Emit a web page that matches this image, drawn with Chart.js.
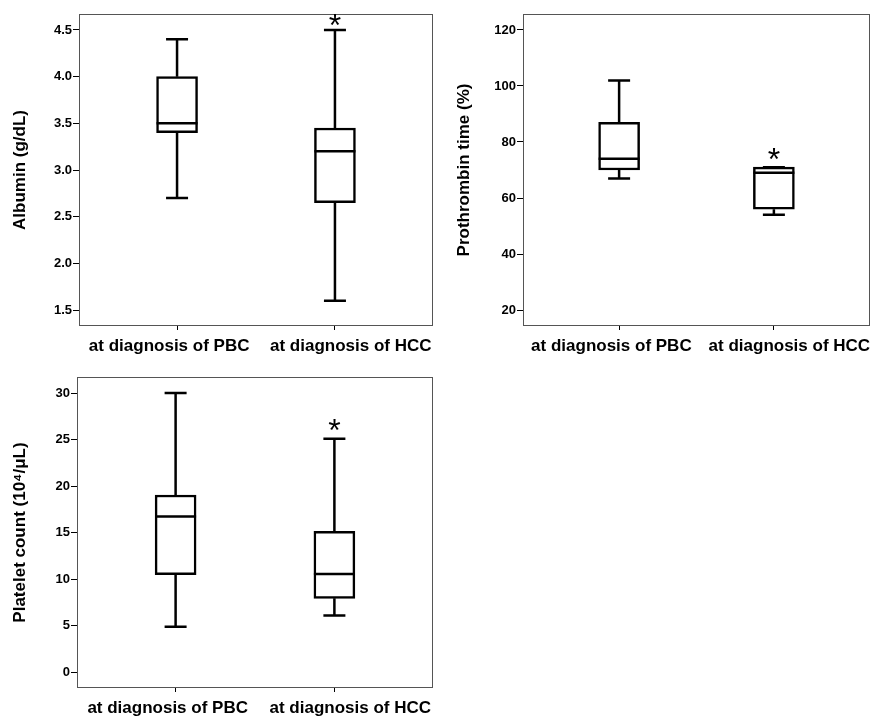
<!DOCTYPE html>
<html>
<head>
<meta charset="utf-8">
<script src="https://cdn.jsdelivr.net/npm/chart.js@4.4.0/dist/chart.umd.min.js"></script>
<style>
body { margin: 0; background: #fff; }
#wrap { position: relative; width: 872px; height: 716px; overflow: hidden; }
canvas { position: absolute; }
</style>
</head>
<body>
<div id="wrap">
<canvas id="albumin" width="440" height="360" style="left:0;top:0"></canvas>
<canvas id="prothrombin" width="432" height="360" style="left:440px;top:0"></canvas>
<canvas id="platelet" width="440" height="356" style="left:0;top:360px"></canvas>
</div>
<script>
const groups = ['at diagnosis of PBC', 'at diagnosis of HCC'];

// albumin (g/dL)
const albLow = [2.7, 1.6];
const albQ1 = [3.4, 2.65];
const albMedian = [3.5, 3.2];
const albQ3 = [4.0, 3.45];
const albHigh = [4.4, 4.5];
const albStar = [null, 4.61];
const albTicks = [1.5, 2.0, 2.5, 3.0, 3.5, 4.0, 4.5];

// prothrombin time (%)
const ptLow = [67, 54];
const ptQ1 = [70, 56];
const ptMedian = [74, 69];
const ptQ3 = [87, 71];
const ptHigh = [102, 71];
const ptStar = [null, 75.6];
const ptTicks = [20, 40, 60, 80, 100, 120];

// platelet count (10^4/uL)
const pltLow = [4.9, 6.1];
const pltQ1 = [10.5, 7.95];
const pltMedian = [16.75, 10.55];
const pltQ3 = [19.05, 15.15];
const pltHigh = [30, 25.1];
const pltStar = [null, 26.6];
const pltTicks = [0, 5, 10, 15, 20, 25, 30];

// layout
const xRange = [-0.621, 1.621];
const labelSpots = [-0.05, 1.1];

Chart.defaults.font.family = "'Liberation Sans', Arial, sans-serif";
Chart.defaults.font.weight = 'bold';
Chart.defaults.color = '#000';

function noPad(s) {
    s.paddingLeft = 0;
    s.paddingRight = 0;
}

function whiskers(p) {
    return {
        id: 'whiskers',
        afterDatasetsDraw(chart) {
            const { ctx, chartArea: a, scales: { y } } = chart;
            const bars = chart.getDatasetMeta(0).data;
            ctx.save();
            ctx.strokeStyle = '#555';
            ctx.lineWidth = 1;
            ctx.strokeRect(a.left + 0.5, a.top + 0.5, a.width - 1, a.height - 1);
            ctx.strokeStyle = '#000';
            ctx.lineWidth = 2.5;
            bars.forEach((bar, i) => {
                const cx = bar.x, half = bar.width / 2, cap = 11;
                const yHigh = y.getPixelForValue(p.high[i]);
                const yQ3 = y.getPixelForValue(p.q3[i]);
                const yMed = y.getPixelForValue(p.median[i]);
                const yQ1 = y.getPixelForValue(p.q1[i]);
                const yLow = y.getPixelForValue(p.low[i]);
                ctx.beginPath();
                ctx.moveTo(cx, yHigh); ctx.lineTo(cx, yQ3);
                ctx.moveTo(cx, yQ1); ctx.lineTo(cx, yLow);
                ctx.moveTo(cx - cap, yHigh); ctx.lineTo(cx + cap, yHigh);
                ctx.moveTo(cx - cap, yLow); ctx.lineTo(cx + cap, yLow);
                ctx.moveTo(cx - half, yMed); ctx.lineTo(cx + half, yMed);
                ctx.stroke();
                if (p.star[i] != null) {
                    ctx.font = "32px 'Liberation Sans', Arial, sans-serif";
                    ctx.fillStyle = '#000';
                    ctx.textAlign = 'center';
                    ctx.textBaseline = 'alphabetic';
                    const m = ctx.measureText('*');
                    const ys = y.getPixelForValue(p.star[i]);
                    ctx.fillText('*', cx, ys + (m.actualBoundingBoxAscent - m.actualBoundingBoxDescent) / 2);
                }
            });
            ctx.restore();
        }
    };
}

function makeChart(id, p) {
    const boxes = groups.map((g, i) => ({ x: i, y: [p.q1[i], p.q3[i]] }));
    return new Chart(document.getElementById(id), {
        type: 'bar',
        data: {
            datasets: [{
                data: boxes,
                backgroundColor: '#fff',
                borderColor: '#000',
                borderWidth: 2.5,
                borderSkipped: false,
                barThickness: 41
            }]
        },
        options: {
            responsive: false,
            animation: false,
            layout: { padding: p.padding },
            plugins: {
                legend: { display: false },
                tooltip: { enabled: false }
            },
            scales: {
                x: {
                    type: 'linear',
                    min: xRange[0],
                    max: xRange[1],
                    offset: false,
                    grid: { drawOnChartArea: false, drawTicks: true, tickLength: 4, color: '#000', lineWidth: 1, offset: false },
                    border: { display: false },
                    ticks: { display: false },
                    afterBuildTicks: s => { s.ticks = groups.map((g, i) => ({ value: i })); },
                    afterFit: s => { s.height = 4; noPad(s); }
                },
                xl: {
                    type: 'linear',
                    position: 'bottom',
                    weight: 1,
                    min: xRange[0],
                    max: xRange[1],
                    offset: false,
                    grid: { display: false, drawTicks: false },
                    border: { display: false },
                    ticks: {
                        autoSkip: false,
                        maxRotation: 0,
                        padding: p.labelPad,
                        font: { size: 17, weight: 'bold' },
                        callback: (v, i) => groups[i]
                    },
                    afterBuildTicks: s => { s.ticks = labelSpots.map(v => ({ value: v })); },
                    afterFit: s => { s.height = p.labelHeight; noPad(s); }
                },
                y: {
                    min: p.range[0],
                    max: p.range[1],
                    grid: { drawOnChartArea: false, drawTicks: true, tickLength: 6, color: '#000', lineWidth: 1 },
                    border: { display: false },
                    ticks: {
                        padding: 1,
                        font: { size: 13, weight: 'bold' },
                        callback: v => v.toFixed(p.decimals)
                    },
                    afterBuildTicks: s => { s.ticks = p.ticks.map(v => ({ value: v })); },
                    afterFit: s => { s.width = p.yWidth; },
                    title: {
                        display: true,
                        text: p.title,
                        font: { size: 17, weight: 'bold' },
                        padding: { top: p.titlePad, bottom: 0 }
                    }
                }
            }
        },
        plugins: [whiskers(p)]
    });
}

makeChart('albumin', {
    low: albLow, q1: albQ1, median: albMedian, q3: albQ3, high: albHigh, star: albStar,
    ticks: albTicks, range: [1.329, 4.671], decimals: 1,
    title: 'Albumin (g/dL)', titlePad: 10,
    padding: { top: 14, right: 7, left: 0, bottom: 0 },
    yWidth: 79, labelHeight: 30, labelPad: 6
});

makeChart('prothrombin', {
    low: ptLow, q1: ptQ1, median: ptMedian, q3: ptQ3, high: ptHigh, star: ptStar,
    ticks: ptTicks, range: [14.29, 125.71], decimals: 0,
    title: 'Prothrombin time (%)', titlePad: 14,
    padding: { top: 14, right: 2, left: 0, bottom: 0 },
    yWidth: 83, labelHeight: 30, labelPad: 6
});

makeChart('platelet', {
    low: pltLow, q1: pltQ1, median: pltMedian, q3: pltQ3, high: pltHigh, star: pltStar,
    ticks: pltTicks, range: [-1.68, 31.72], decimals: 0,
    title: 'Platelet count (10⁴/μL)', titlePad: 10,
    padding: { top: 17, right: 7, left: 0, bottom: 0 },
    yWidth: 77, labelHeight: 24, labelPad: 6
});
</script>
</body>
</html>
